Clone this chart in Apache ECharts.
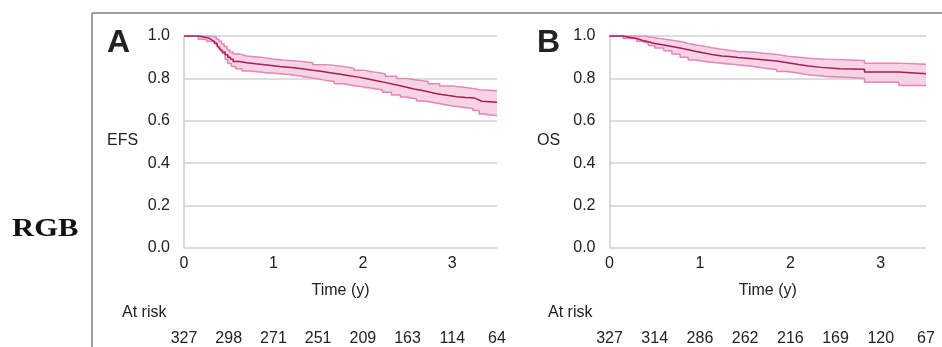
<!DOCTYPE html>
<html>
<head>
<meta charset="utf-8">
<script src="https://cdn.jsdelivr.net/npm/echarts@6/dist/echarts.min.js"></script>
<style>
html,body{margin:0;padding:0;background:#fff;}
#chart{width:942px;height:347px;}
</style>
</head>
<body>
<div id="chart"></div>
<script>
// ---- Data ----
var xTicks = [0, 1, 2, 3];
var riskTimes = [0, 0.5, 1, 1.5, 2, 2.5, 3, 3.5];
var riskA = [327, 298, 271, 251, 209, 163, 114, 64];
var riskB = [327, 314, 286, 262, 216, 169, 120, 67];

var efsEst = [[0,1.0],[0.16,0.995],[0.22,0.99],[0.28,0.982],[0.31,0.975],[0.34,0.965],[0.37,0.955],[0.39,0.945],[0.41,0.935],[0.43,0.925],[0.46,0.912],[0.49,0.9],[0.52,0.89],[0.55,0.88],[0.62,0.874],[0.7,0.869],[0.8,0.862],[0.95,0.856],[1.07,0.851],[1.2,0.845],[1.32,0.838],[1.44,0.832],[1.55,0.826],[1.65,0.82],[1.75,0.812],[1.85,0.806],[1.95,0.8],[2.03,0.794],[2.1,0.787],[2.18,0.78],[2.26,0.772],[2.34,0.765],[2.42,0.758],[2.49,0.75],[2.57,0.744],[2.65,0.737],[2.73,0.73],[2.8,0.724],[2.88,0.719],[2.96,0.714],[3.05,0.71],[3.15,0.707],[3.25,0.7],[3.29,0.692],[3.33,0.688],[3.5,0.688]];
var efsUpper = [[0,1.0],[0.3,0.995],[0.36,0.985],[0.39,0.975],[0.42,0.962],[0.45,0.95],[0.48,0.935],[0.51,0.925],[0.55,0.915],[0.62,0.906],[0.7,0.9],[0.85,0.892],[1.0,0.887],[1.1,0.882],[1.25,0.874],[1.44,0.864],[1.6,0.856],[1.78,0.848],[1.9,0.838],[2.0,0.83],[2.12,0.822],[2.25,0.81],[2.38,0.8],[2.49,0.793],[2.6,0.785],[2.73,0.775],[2.86,0.764],[3.0,0.758],[3.12,0.752],[3.23,0.746],[3.3,0.742],[3.5,0.742]];
var efsLower = [[0,1.0],[0.16,0.985],[0.25,0.975],[0.33,0.966],[0.37,0.95],[0.4,0.935],[0.43,0.918],[0.46,0.89],[0.49,0.87],[0.53,0.856],[0.58,0.845],[0.65,0.835],[0.75,0.828],[0.9,0.822],[1.07,0.817],[1.2,0.81],[1.32,0.802],[1.44,0.793],[1.56,0.785],[1.68,0.775],[1.78,0.768],[1.88,0.76],[2.0,0.752],[2.12,0.745],[2.22,0.735],[2.32,0.722],[2.42,0.712],[2.49,0.703],[2.6,0.693],[2.7,0.685],[2.8,0.678],[2.9,0.67],[3.0,0.665],[3.1,0.658],[3.23,0.648],[3.3,0.632],[3.36,0.624],[3.5,0.624]];

var osEst = [[0,1],[0.15,0.995],[0.2,0.988],[0.3,0.98],[0.36,0.973],[0.43,0.965],[0.5,0.958],[0.6,0.95],[0.69,0.943],[0.78,0.935],[0.87,0.927],[0.96,0.919],[1.06,0.911],[1.15,0.906],[1.24,0.903],[1.33,0.899],[1.42,0.895],[1.52,0.891],[1.61,0.887],[1.72,0.882],[1.85,0.874],[1.97,0.866],[2.09,0.859],[2.2,0.852],[2.34,0.846],[2.55,0.843],[2.82,0.83],[3.2,0.822],[3.5,0.822]];
var osUpper = [[0,1],[0.39,0.995],[0.45,0.988],[0.55,0.98],[0.69,0.973],[0.8,0.965],[0.87,0.958],[0.96,0.95],[1.06,0.943],[1.15,0.937],[1.24,0.932],[1.33,0.927],[1.42,0.923],[1.6,0.917],[1.72,0.913],[1.85,0.905],[1.97,0.9],[2.09,0.895],[2.2,0.89],[2.38,0.884],[2.82,0.872],[3.2,0.867],[3.5,0.867]];
var osLower = [[0,1],[0.15,0.988],[0.3,0.975],[0.36,0.966],[0.43,0.955],[0.5,0.943],[0.6,0.93],[0.69,0.915],[0.78,0.9],[0.87,0.887],[0.96,0.88],[1.06,0.872],[1.24,0.864],[1.42,0.856],[1.6,0.848],[1.72,0.842],[1.85,0.832],[1.97,0.825],[2.09,0.817],[2.2,0.81],[2.38,0.801],[2.82,0.782],[3.2,0.766],[3.5,0.766]];

// ---- Styles ----
var FONT = '"Liberation Sans", Arial, sans-serif';
var TXT = '#222';
var GRIDC = '#d2d2d2';
var LINEC = '#b0185c';
var BANDEDGE = '#e585b8';
var BANDFILL = '#f6d3e5';

function stepPoints(api, pts) {
  var out = [];
  for (var i = 0; i < pts.length; i++) {
    out.push(api.coord([pts[i][0], pts[i][1]]));
    if (i + 1 < pts.length) out.push(api.coord([pts[i + 1][0], pts[i][1]]));
  }
  return out;
}

function bandSeries(gi, upper, lower) {
  return {
    type: 'custom', xAxisIndex: gi * 2, yAxisIndex: gi, z: 1,
    data: [[0, 0]], silent: true,
    renderItem: function (params, api) {
      var up = stepPoints(api, upper);
      var lo = stepPoints(api, lower).reverse();
      return { type: 'polygon', shape: { points: up.concat(lo) }, style: { fill: BANDFILL } };
    }
  };
}

function lineSeries(gi, data, color, z) {
  return {
    type: 'line', xAxisIndex: gi * 2, yAxisIndex: gi, z: z,
    data: data, step: 'end', showSymbol: false, symbol: 'none',
    lineStyle: { color: color, width: 1.5 }, silent: true
  };
}

function xAxes(gi, risk) {
  return [{
    type: 'value', gridIndex: gi, min: 0, max: 3.5, interval: 1,
    axisLine: { show: false }, axisTick: { show: false }, splitLine: { show: false },
    axisLabel: { showMaxLabel: false, margin: 8, fontSize: 16, color: TXT, fontFamily: FONT,
      formatter: function (v) { return xTicks.indexOf(v) >= 0 ? String(v) : ''; } },
    name: 'Time (y)', nameLocation: 'middle', nameGap: 35,
    nameTextStyle: { fontSize: 16, color: TXT, fontFamily: FONT }
  }, {
    type: 'value', gridIndex: gi, min: 0, max: 3.5, interval: 0.5, position: 'bottom', offset: 83,
    axisLine: { show: false }, axisTick: { show: false }, splitLine: { show: false },
    axisLabel: { showMinLabel: true, showMaxLabel: true, margin: 0, fontSize: 16, color: TXT, fontFamily: FONT,
      formatter: function (v) { var i = riskTimes.indexOf(v); return i >= 0 ? String(risk[i]) : ''; } }
  }];
}

function yAxis(gi) {
  return {
    type: 'value', gridIndex: gi, min: 0, max: 1, interval: 0.2, offset: 10,
    axisLine: { show: true, lineStyle: { color: '#cfcfcf', width: 1.5 } },
    axisTick: { show: false },
    splitLine: { show: true, lineStyle: { color: GRIDC, width: 1.5 } },
    axisLabel: { margin: 4, fontSize: 16, color: TXT, fontFamily: FONT,
      formatter: function (v) { return v.toFixed(1); } }
  };
}

function txt(x, y, s, size, weight, extra) {
  var o = { type: 'text', x: x, y: y, silent: true,
    style: { text: s, fontSize: size, fontWeight: weight || 'normal', fill: TXT, fontFamily: FONT,
      textAlign: 'left', textVerticalAlign: 'middle' } };
  if (extra) for (var k in extra) o[k] = extra[k];
  return o;
}

var chart = echarts.init(document.getElementById('chart'), null, { renderer: 'canvas' });
chart.setOption({
  animation: false,
  backgroundColor: '#fff',
  grid: [
    { left: 184, top: 36, width: 313, height: 213 },
    { left: 609.5, top: 36, width: 316.5, height: 213 }
  ],
  xAxis: xAxes(0, riskA).concat(xAxes(1, riskB)),
  yAxis: [yAxis(0), yAxis(1)],
  series: [
    bandSeries(0, efsUpper, efsLower),
    lineSeries(0, efsUpper, BANDEDGE, 2),
    lineSeries(0, efsLower, BANDEDGE, 2),
    lineSeries(0, efsEst, LINEC, 3),
    bandSeries(1, osUpper, osLower),
    lineSeries(1, osUpper, BANDEDGE, 2),
    lineSeries(1, osLower, BANDEDGE, 2),
    lineSeries(1, osEst, LINEC, 3)
  ],
  graphic: [
    { type: 'line', silent: true, shape: { x1: 92, y1: 13, x2: 942, y2: 13 }, style: { stroke: '#808080', lineWidth: 1.5 } },
    { type: 'line', silent: true, shape: { x1: 92, y1: 13, x2: 92, y2: 347 }, style: { stroke: '#808080', lineWidth: 1.5 } },
    txt(107, 43, 'A', 32, 'bold'),
    txt(537, 43, 'B', 32, 'bold'),
    txt(107, 141, 'EFS', 16),
    txt(537, 141, 'OS', 16),
    txt(122, 313, 'At risk', 16),
    txt(548, 313, 'At risk', 16),
    { type: 'text', x: 12, y: 229, scaleX: 1.18, silent: true,
      style: { text: 'RGB', fontSize: 26, fontWeight: 'bold', fill: '#111',
        fontFamily: '"Liberation Serif", "Times New Roman", serif', textAlign: 'left', textVerticalAlign: 'middle' } }
  ]
});
</script>
</body>
</html>
